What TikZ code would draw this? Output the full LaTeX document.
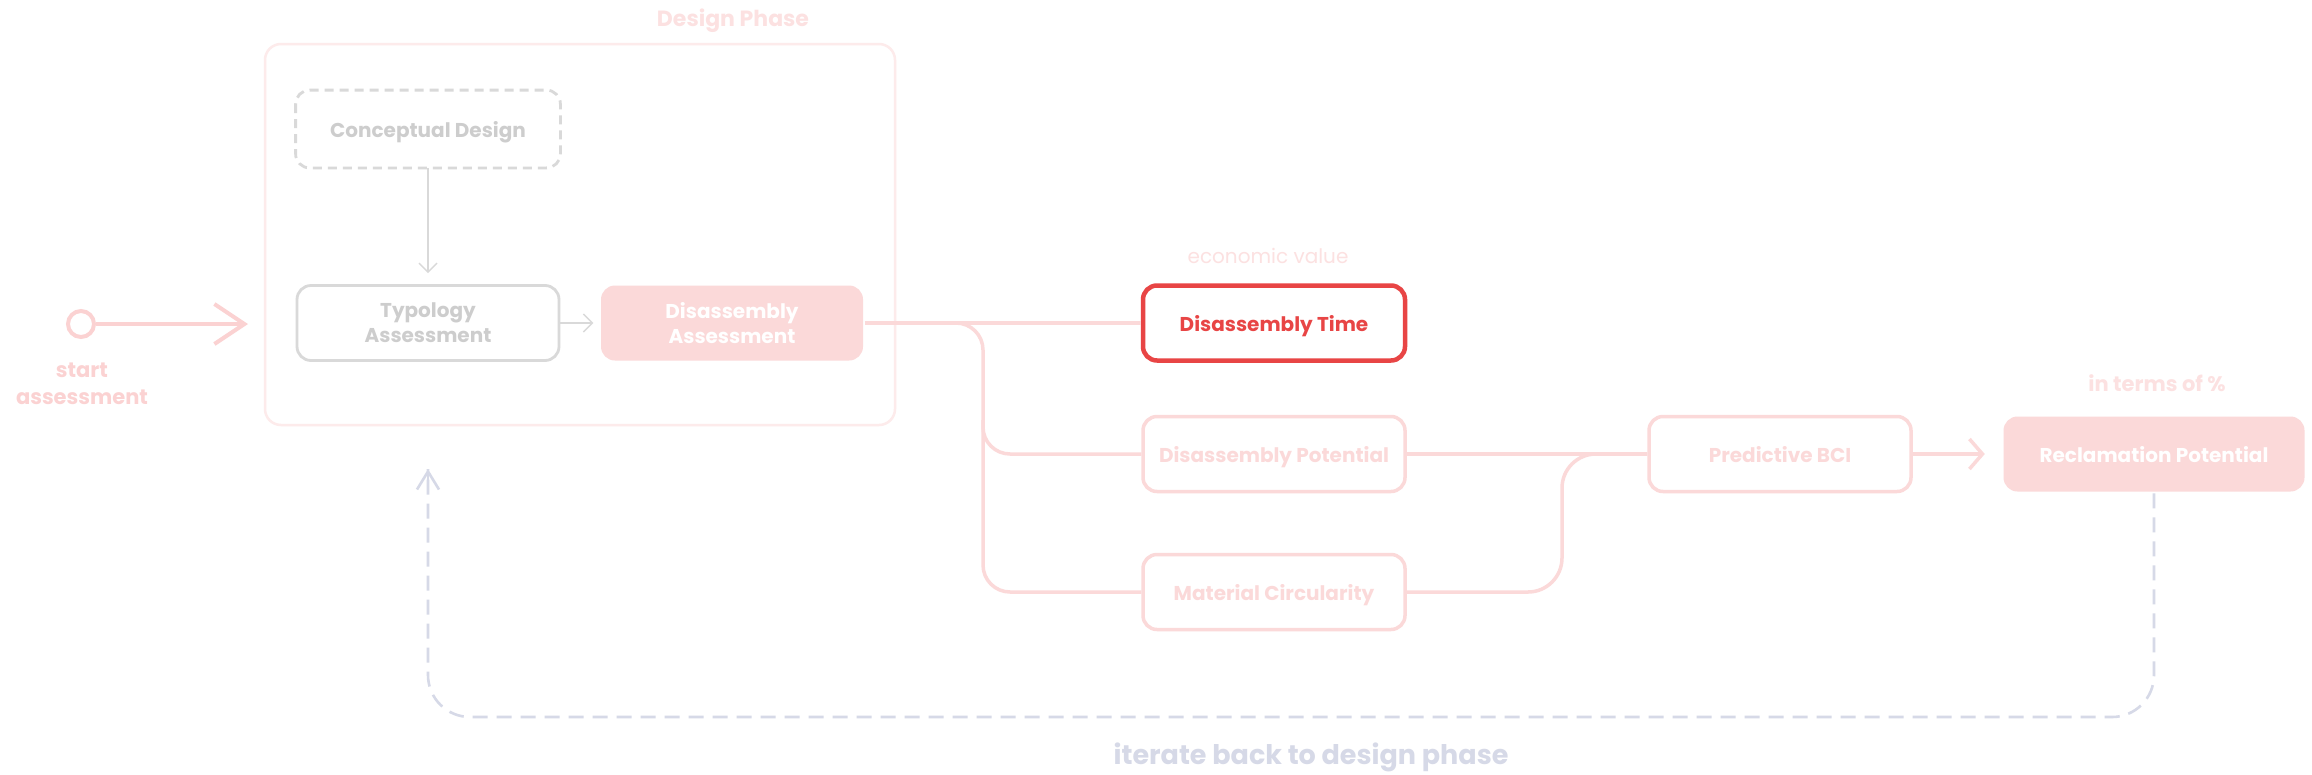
\documentclass[tikz,border=0pt]{standalone}
\usepackage{fontspec}
\setmainfont{Poppins}
\usetikzlibrary{arrows.meta}
\definecolor{pk}{HTML}{FBD9D9}
\definecolor{pks}{HTML}{FBD2D2}
\definecolor{pkl}{HTML}{FDEBEB}
\definecolor{pkt}{HTML}{FCE1E1}
\definecolor{gr}{HTML}{D9D9D9}
\definecolor{grt}{HTML}{CDCDCD}
\definecolor{rd}{HTML}{E84545}
\definecolor{bl}{HTML}{D6D9E7}
\begin{document}
\begin{tikzpicture}[x=1pt,y=-1pt,
  box/.style={rounded corners=14pt, line width=3.5pt, minimum width=262pt, minimum height=75pt,
    align=center, inner sep=0pt, text depth=0pt, font=\fontsize{20}{25}\selectfont\bfseries},
  pbox/.style={box, draw=pk, text=pk},
  fbox/.style={box, fill=pk, text=white},
  gbox/.style={box, draw=gr, line width=2.8pt, text=grt},
  conn/.style={draw=pk, line width=3.5pt},
  thinarrow/.style={draw=gr, line width=1.4pt, -{Straight Barb[length=9pt,width=18pt]}},
  lbl/.style={inner sep=0pt, text depth=0pt, font=\fontsize{20}{25}\selectfont\bfseries}
]
\useasboundingbox (0,0) rectangle (2312,774);
\fill[white] (0,0) rectangle (2312,774);

% design phase
\node[draw=pkl, line width=2.5pt, rounded corners=16pt, minimum width=630pt, minimum height=381pt, inner sep=0pt] (phase) at (580,234.5) {};
\node[lbl, text=pkt, font=\fontsize{22}{27}\selectfont\bfseries] (phaselbl) at (733,18) {Design Phase};

\node[gbox, draw=none] (cd) at (428,129) {Conceptual Design};
\draw[gr, line width=2.8pt, dash pattern=on 9pt off 6pt, rounded corners=14pt] (cd.north west) rectangle (cd.south east);
\node[gbox] (ty) at (428,323) {Typology\\Assessment};
\node[fbox] (da) at (732,323) {Disassembly\\Assessment};

\draw[thinarrow, shorten >=11pt] (cd) -- (ty);
\draw[thinarrow, shorten >=6pt] (ty) -- (da);

% start
\node[circle, draw=pks, line width=4pt, minimum size=26pt, inner sep=0pt] (start) at (81,324) {};
\coordinate (startend) at (248,324);
\draw[pks, line width=4pt, -{Straight Barb[length=30pt,width=40pt,line width=4pt]}] (start) -- (startend);
\node[lbl, text=pks, align=center, font=\fontsize{21}{27}\selectfont\bfseries] (startlbl) at (82,384) {start\\assessment};

% outputs
\node[box, draw=rd, line width=4.5pt, text=rd] (dt) at (1274,323) {Disassembly Time};
\node[inner sep=0pt, text depth=0pt, text=pkt, font=\fontsize{20}{25}\selectfont] (econ) at (1268,256) {economic value};
\node[pbox] (dp) at (1274,454) {Disassembly Potential};
\node[pbox] (mc) at (1274,592) {Material Circularity};
\node[pbox] (pb) at (1780,454) {Predictive BCI};
\node[fbox, minimum width=301pt] (rp) at (2154,454) {Reclamation Potential};
\node[lbl, text=pkt, font=\fontsize{21}{26}\selectfont\bfseries] (pct) at (2157,383) {in terms of \%};

\draw[conn] (da.east) -- (dt.west);
\draw[conn, rounded corners=27pt] (958,323) -- (983,323) -- (983,454) -- (dp.west);
\draw[conn, rounded corners=27pt] (983,420) -- (983,592) -- (mc.west);
\draw[conn] (dp.east) -- (pb.west);
\draw[conn, rounded corners=34pt] (mc.east) -- (1562,592) -- (1562,454) -- (pb.west);
\draw[conn, -{Straight Barb[length=13pt,width=30pt,line width=3.5pt]}, shorten >=17pt] (pb) -- (rp);

% feedback
\coordinate (fbend) at (428,469);
\draw[bl, line width=2.6pt, dash pattern=on 15pt off 9pt, rounded corners=42pt] (rp.south) -- (2154,717) -- (428,717) -- (fbend);
\draw[bl, line width=2.6pt, -{Straight Barb[length=18pt,width=22pt,line width=2.6pt]}] (428,490) -- (fbend);
\node[inner sep=0pt, anchor=base, text=bl, font=\fontsize{27}{32}\selectfont\bfseries] (iter) at (1311,764) {iterate back to design phase};
\end{tikzpicture}
\end{document}
